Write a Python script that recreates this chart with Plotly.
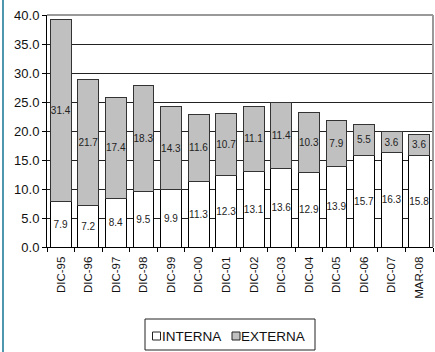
import plotly.graph_objects as go

categories = ["DIC-95", "DIC-96", "DIC-97", "DIC-98", "DIC-99", "DIC-00", "DIC-01",
              "DIC-02", "DIC-03", "DIC-04", "DIC-05", "DIC-06", "DIC-07", "MAR-08"]
interna = [7.9, 7.2, 8.4, 9.5, 9.9, 11.3, 12.3, 13.1, 13.6, 12.9, 13.9, 15.7, 16.3, 15.8]
externa = [31.4, 21.7, 17.4, 18.3, 14.3, 11.6, 10.7, 11.1, 11.4, 10.3, 7.9, 5.5, 3.6, 3.6]
y_ticks = [0, 5, 10, 15, 20, 25, 30, 35, 40]
series_names = ["INTERNA", "EXTERNA"]
series_colors = ["white", "#C0C0C0"]

FONT = "Liberation Sans, Arial, sans-serif"
PW, PH = 386, 232  # plot area size in px
L, T = 47, 15


def px_x(x):
    return (x - L) / PW


def px_y(y):
    return (T + PH - y) / PH


fig = go.Figure()
for name, vals, col, lc in [(series_names[0], interna, series_colors[0], "black"),
                            (series_names[1], externa, series_colors[1], "#333")]:
    fig.add_trace(go.Bar(
        name=name, x=categories, y=vals,
        marker=dict(color=col, line=dict(color=lc, width=1)),
        texttemplate="%{y:.1f}", textposition="inside", insidetextanchor="middle",
        textangle=0, textfont=dict(family=FONT, size=10, color="#222"),
        constraintext="none", showlegend=False,
    ))

fig.update_layout(
    barmode="stack", bargap=0.24,
    width=435, height=352,
    margin=dict(l=L, r=435 - L - PW, t=T, b=352 - T - PH),
    paper_bgcolor="white", plot_bgcolor="white",
    font=dict(family=FONT, color="#111"),
    uniformtext=dict(mode="show", minsize=10),
    showlegend=False,
)
fig.update_xaxes(
    tickangle=-90, tickfont=dict(family=FONT, size=11.5, color="#111"),
    showline=True, linecolor="black", linewidth=1,
    ticks="outside", ticklen=4, tickcolor="black", tickson="boundaries",
    ticklabelstandoff=4, showgrid=False,
)
fig.update_yaxes(
    range=[0, 40], tickvals=y_ticks, tickformat=".1f",
    tickfont=dict(family=FONT, size=13, color="#111"),
    showline=True, linecolor="black", linewidth=1,
    ticks="outside", ticklen=4, tickcolor="black",
    showgrid=True, gridcolor="#222", gridwidth=1, zeroline=False,
)
# plot area border (top and right, gray)
fig.add_shape(type="line", xref="paper", yref="paper", x0=0, x1=1, y0=1, y1=1,
              line=dict(color="#999", width=2))
fig.add_shape(type="line", xref="paper", yref="paper", x0=1, x1=1, y0=0, y1=1,
              line=dict(color="#999", width=2))
# chart area left frame line
fig.add_shape(type="line", xref="paper", yref="paper",
              x0=px_x(3), x1=px_x(3), y0=px_y(352), y1=px_y(0),
              line=dict(color="#4E97AE", width=2))

# legend box
fig.add_shape(type="rect", xref="paper", yref="paper",
              x0=px_x(145), x1=px_x(315), y0=px_y(350), y1=px_y(319),
              line=dict(color="#222", width=1), fillcolor="white")
for i, (sx, tx) in enumerate([(152.5, 161), (232, 240)]):
    fig.add_shape(type="rect", xref="paper", yref="paper",
                  x0=px_x(sx), x1=px_x(sx + 8), y0=px_y(340), y1=px_y(332),
                  line=dict(color="#222", width=1), fillcolor=series_colors[i])
    fig.add_annotation(xref="paper", yref="paper", x=px_x(tx), y=px_y(336),
                       xanchor="left", yanchor="middle", showarrow=False,
                       text=series_names[i], borderpad=0,
                       font=dict(family=FONT, size=13.5, color="#111"))

fig.write_html("out.html")
